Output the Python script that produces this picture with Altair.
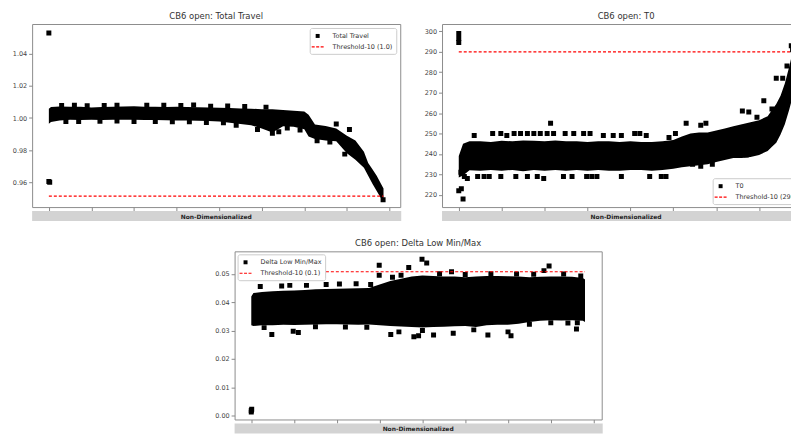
import altair as alt
import pandas as pd

FONT = "DejaVu Sans"

# ---------------- Panel 1: Total Travel ----------------
tt_name = "Total Travel"
tt_thr_label = "Threshold-10 (1.0)"
tt_thr = 0.9513
tt_end = 7.86
tt_x = [0.0, 0.05, 0.25, 0.5, 0.75, 1.0, 1.25, 1.5, 1.75, 2.0, 2.25, 2.5, 2.75, 3.0, 3.25,
        3.5, 3.75, 4.0, 4.25, 4.5, 4.75, 5.0, 5.25, 5.5, 5.75, 6.0, 6.1, 6.25, 6.5, 6.75,
        7.0, 7.2, 7.4, 7.5, 7.6, 7.7, 7.8, 7.86]
tt_hi = [1.0058, 1.0068, 1.0072, 1.0070, 1.0071, 1.0066, 1.0069, 1.0070, 1.0072, 1.0073,
         1.0070, 1.0071, 1.0069, 1.0070, 1.0068, 1.0067, 1.0066, 1.0064, 1.0063, 1.0060,
         1.0058, 1.0055, 1.0054, 1.0050, 1.0046, 1.0040, 1.0020, 0.9960, 0.9950, 0.9935,
         0.9890, 0.9860, 0.9790, 0.9720, 0.9680, 0.9640, 0.9590, 0.9560]
tt_lo = [0.9965, 0.9975, 0.9985, 0.9990, 0.9988, 0.9990, 0.9987, 0.9990, 0.9989, 0.9990,
         0.9988, 0.9987, 0.9986, 0.9985, 0.9985, 0.9983, 0.9982, 0.9978, 0.9970, 0.9962,
         0.9955, 0.9935, 0.9910, 0.9948, 0.9945, 0.9930, 0.9885, 0.9870, 0.9860, 0.9855,
         0.9780, 0.9740, 0.9690, 0.9640, 0.9590, 0.9545, 0.9500, 0.9485]
tt_px = [0.0, 0.0, 0.02, 6.75, 7.06, 0.3, 0.9, 1.6, 2.3, 3.1, 3.8, 4.6, 5.1,
         0.4, 1.2, 2.0, 2.9, 3.7, 4.4, 4.9, 5.25, 5.4, 6.3, 6.6, 6.95, 7.85,
         0.6, 1.3, 2.7, 3.4, 4.2, 0.7, 1.6, 2.5, 3.3, 4.1, 5.6, 5.9]
tt_py = [1.053, 0.9605, 0.9600, 0.9963, 0.9928, 1.0078, 1.0076, 1.0079, 1.0080, 1.0078,
         1.0074, 1.0072, 1.0068, 0.9978, 0.9980, 0.9978, 0.9976, 0.9972, 0.9955, 0.9928,
         0.9905, 0.9915, 0.9858, 0.9850, 0.9775, 0.9490,
         1.0080, 1.0078, 1.0079, 1.0081, 1.0075, 0.9979, 0.9981, 0.9978, 0.9976, 0.9970,
         0.9938, 0.9925]

# ---------------- Panel 2: T0 ----------------
t0_name = "T0"
t0_thr_label = "Threshold-10 (290.0)"
t0_thr = 290.0
t0_end = 7.8
t0_x = [0.0, 0.1, 0.25, 0.5, 0.75, 1.0, 1.25, 1.5, 1.75, 2.0, 2.25, 2.5, 2.75, 3.0, 3.25,
        3.5, 3.75, 4.0, 4.25, 4.5, 4.75, 5.0, 5.2, 5.4, 5.6, 5.8, 6.0, 6.2, 6.4, 6.6, 6.8,
        7.0, 7.2, 7.3, 7.4, 7.5, 7.6, 7.7, 7.8]
t0_hi = [239, 245, 246.2, 246.2, 245.8, 246.5, 246.2, 246.6, 246.5, 246.2, 246.6, 246.2,
         246.2, 245.8, 246.2, 246.2, 245.8, 246.2, 245.8, 245.8, 246.2, 246.8, 248.5, 250,
         250.5, 250.5, 251.5, 252.5, 253.5, 254.5, 255.5, 256.5, 258.5, 261.5, 264.5, 268.5,
         274.5, 282.5, 291.5]
t0_lo = [228.5, 229.5, 232, 231.8, 232.2, 231.8, 232.2, 231.5, 232.2, 231.8, 232.2, 231.8,
         232.2, 231.8, 232.2, 231.8, 231.8, 232.2, 232.2, 231.8, 232.2, 232.8, 233.5, 234,
         234.5, 235, 236, 237, 238, 238, 238.5, 239.5, 241.5, 243.5, 245.5, 249.5, 254.5,
         261.5, 269.5]
t0_px = [0.0, 0.0, 0.0, 0.0, 0.06, 0.1,
         0.36, 0.79, 0.98, 1.12, 1.29, 1.44, 1.6, 1.75, 1.9, 2.06, 2.21, 2.14, 2.48, 2.68,
         2.91, 3.06, 3.37, 3.6, 3.79, 4.1, 4.22, 4.37, 4.9, 5.05, 5.3, 5.64, 5.76,
         0.05, 0.13, 0.2, 0.44, 0.59, 0.71, 0.98, 1.33, 1.6, 1.83, 1.98, 2.44, 2.64, 2.98,
         3.1, 3.22, 3.79, 4.45, 4.72, 4.83, 5.45, 5.64, 5.91,
         6.0, 6.5, 6.61, 6.7, 6.76, 6.95, 7.11, 7.2, 7.3, 7.4, 7.55, 7.65, 7.75, 7.78]
t0_py = [299, 296.5, 294.5, 222, 223, 218,
         249, 250, 250, 249, 250, 250, 250, 250, 250, 250, 250, 255, 250, 250,
         250, 250, 249, 249, 249, 250, 250, 249, 248, 250, 255, 254, 255,
         231, 229, 228, 229, 229, 229, 229, 229, 229, 229, 228, 229, 229, 229,
         229, 229, 229, 229, 229, 229, 235, 234, 235,
         239, 240, 261, 239.5, 260.5, 258, 266, 245.5, 262, 277, 277, 283, 293, 291]

# ---------------- Panel 3: Delta Low Min/Max ----------------
dl_name = "Delta Low Min/Max"
dl_thr_label = "Threshold-10 (0.1)"
dl_thr = 0.0507
dl_end = 7.8
dl_x = [0.0, 0.05, 0.25, 0.5, 0.75, 1.0, 1.25, 1.5, 1.75, 2.0, 2.25, 2.5, 2.75, 3.0, 3.25,
        3.5, 3.75, 4.0, 4.25, 4.5, 4.75, 5.0, 5.25, 5.5, 5.75, 6.0, 6.25, 6.5, 6.75, 7.0,
        7.25, 7.5, 7.75, 7.8]
dl_hi = [0.0420, 0.0432, 0.0436, 0.0438, 0.0440, 0.0441, 0.0443, 0.0445, 0.0446, 0.0447,
         0.0448, 0.0449, 0.0450, 0.0462, 0.0474, 0.0482, 0.0490, 0.0494, 0.0492, 0.0490,
         0.0490, 0.0488, 0.0490, 0.0492, 0.0492, 0.0491, 0.0490, 0.0488, 0.0489, 0.0490,
         0.0490, 0.0489, 0.0485, 0.0480]
dl_lo = [0.0318, 0.0316, 0.0318, 0.0318, 0.0320, 0.0319, 0.0320, 0.0321, 0.0322, 0.0322,
         0.0321, 0.0320, 0.0321, 0.0318, 0.0316, 0.0314, 0.0312, 0.0310, 0.0312, 0.0313,
         0.0315, 0.0316, 0.0312, 0.0318, 0.0320, 0.0320, 0.0324, 0.0330, 0.0334, 0.0336,
         0.0335, 0.0336, 0.0334, 0.0330]
dl_px = [0.0, 0.0, 0.01, 3.99, 4.10, 3.68, 2.99, 2.99, 6.96, 6.84, 4.68,
         0.48, 0.98, 1.10, 3.26, 3.45, 3.80, 3.91, 4.26, 4.72, 5.53, 6.0, 6.07, 7.60, 7.62,
         0.21, 0.71, 0.9, 1.29, 1.75, 2.06, 2.45, 2.79,
         3.3, 3.5, 4.4, 5.0, 5.6, 6.2, 6.6, 7.3, 7.7,
         6.5, 7.0, 7.4, 5.2, 4.0, 0.3, 1.5, 2.2, 2.7]
dl_py = [0.0018, 0.0012, 0.0022, 0.0551, 0.0538, 0.0522, 0.0530, 0.0495, 0.0527, 0.0511,
         0.0507, 0.0286, 0.0297, 0.0293, 0.0286, 0.0295, 0.0278, 0.0281, 0.0284, 0.0290,
         0.0284, 0.0295, 0.0281, 0.0305, 0.0327,
         0.0455, 0.0457, 0.0459, 0.0459, 0.0462, 0.0464, 0.0465, 0.0462,
         0.0488, 0.0495, 0.0500, 0.0497, 0.0500, 0.0499, 0.0498, 0.0499, 0.0492,
         0.0322, 0.0327, 0.0326, 0.0302, 0.0300, 0.0310, 0.0313, 0.0312, 0.0311]

X_TICKS = [0, 1, 2, 3, 4, 5, 6, 7, 8]


def panel(title, name, thr_label, bx, blo, bhi, px, py, thr_y, x_end, x_dom, y_dom,
          y_ticks, y_fmt, leg_orient, leg_offset, extent, W, H, pad_right=0):
    band_df = pd.DataFrame({"x": bx, "lo": blo, "hi": bhi})
    pts_df = pd.DataFrame({"x": px, "y": py, "series": [name] * len(px)})
    thr_df = pd.DataFrame({"x": [0.0], "x2": [x_end], "y": [thr_y]})
    xs = alt.Scale(domain=x_dom, nice=False, zero=False)
    ys = alt.Scale(domain=y_dom, nice=False, zero=False)
    xaxis = alt.Axis(values=X_TICKS, labels=False, ticks=True, tickSize=3.5, grid=False,
                     domain=False, title=None, tickColor="#888888")
    yaxis = alt.Axis(values=y_ticks, format=y_fmt, title=None, grid=False, domain=False,
                     tickSize=3.5, labelPadding=2, labelOverlap=False, tickCount=len(y_ticks),
                     minExtent=extent, maxExtent=extent)
    area = alt.Chart(band_df).mark_area(color="black", opacity=1, clip=True).encode(
        x=alt.X("x:Q", scale=xs, axis=xaxis),
        y=alt.Y("lo:Q", scale=ys, axis=yaxis),
        y2="hi:Q",
    )
    sel = f"datum.value == '{name}'"
    legend = alt.Legend(
        title=None, orient=leg_orient, offset=leg_offset, padding=3, rowPadding=1,
        labelFont=FONT, labelFontSize=6.5, labelColor="#333333", labelOffset=10,
        symbolSize=64, symbolStrokeWidth=1.2, symbolDash=[3, 1.5],
        symbolType={"expr": f"{sel} ? 'M-0.5,-0.5H0.5V0.5H-0.5Z' : 'M-1.5,0H1.5'"},
        symbolFillColor={"expr": f"{sel} ? 'black' : 'transparent'"},
        symbolStrokeColor={"expr": f"{sel} ? 'transparent' : '#ff0000'"},
        strokeColor="#cccccc", fillColor="white", cornerRadius=2,
    )
    pts = alt.Chart(pts_df).mark_point(shape="square", filled=True, size=25, opacity=1,
                                       clip=True).encode(
        x=alt.X("x:Q", scale=xs, axis=xaxis),
        y=alt.Y("y:Q", scale=ys, axis=yaxis),
        color=alt.Color("series:N", scale=alt.Scale(domain=[name, thr_label],
                                                    range=["black", "#ff0000"]),
                        legend=legend),
    )
    rule = alt.Chart(thr_df).mark_rule(color="#ff0000", strokeDash=[3, 2], strokeWidth=1.2,
                                       clip=True).encode(
        x=alt.X("x:Q", scale=xs, axis=xaxis), x2="x2:Q",
        y=alt.Y("y:Q", scale=ys, axis=yaxis))
    one = pd.DataFrame({"a": [0]})
    grey = alt.Chart(one).mark_rect(color="#d3d3d3").encode(
        x=alt.value(0), x2=alt.value(W + 1), y=alt.value(H + 4), y2=alt.value(H + 14))
    label = alt.Chart(one).mark_text(text="Non-Dimensionalized", fontWeight="bold", fontSize=6,
                                     font=FONT, color="#222222").encode(
        x=alt.value(W / 2), y=alt.value(H + 9.5))
    layers = [area, pts, rule, grey, label]
    if pad_right:
        spacer = alt.Chart(one).mark_rect(color="white", opacity=0).encode(
            x=alt.value(W + 1), x2=alt.value(W + 1 + pad_right), y=alt.value(H + 4),
            y2=alt.value(H + 5))
        layers.append(spacer)
    return alt.layer(*layers).properties(width=W, height=H, title=title)


p1 = panel("CB6 open: Total Travel", tt_name, tt_thr_label, tt_x, tt_lo, tt_hi, tt_px, tt_py,
           tt_thr, tt_end, [-0.393, 8.253], [0.9445, 1.0586], [0.96, 0.98, 1.00, 1.02, 1.04],
           ".2f", "top-right", 4, 23, 370, 184)
p2 = panel("CB6 open: T0", t0_name, t0_thr_label, t0_x, t0_lo, t0_hi, t0_px, t0_py,
           t0_thr, t0_end, [-0.39, 8.19], [214.0, 303.6], [220, 230, 240, 250, 260, 270, 280, 290, 300],
           "d", "bottom-right", 3, 23, 370, 184)
p3 = panel("CB6 open: Delta Low Min/Max", dl_name, dl_thr_label, dl_x, dl_lo, dl_hi, dl_px, dl_py,
           dl_thr, dl_end, [-0.39, 8.19], [-0.0014, 0.0579], [0.00, 0.01, 0.02, 0.03, 0.04, 0.05],
           ".2f", "top-left", 2.5, 23, 369, 169, pad_right=6)

top = alt.hconcat(p1, p2, spacing=16).resolve_scale(color="independent", x="independent", y="independent")
chart = alt.vconcat(top, p3, spacing=16.5, center=True).resolve_scale(
    color="independent", x="independent", y="independent"
).properties(
    padding={"left": 0, "top": 2, "right": -21, "bottom": -1}
).configure(font=FONT).configure_view(stroke="#8c8c8c", strokeWidth=1).configure_title(
    fontSize=8.5, font=FONT, fontWeight="normal", color="#333333", offset=4, anchor="middle", frame="group"
).configure_axis(
    labelFont=FONT, labelFontSize=6.5, labelColor="#444444", tickColor="#888888"
)

chart.save("out.html", embed_options={"renderer": "svg", "actions": False})
